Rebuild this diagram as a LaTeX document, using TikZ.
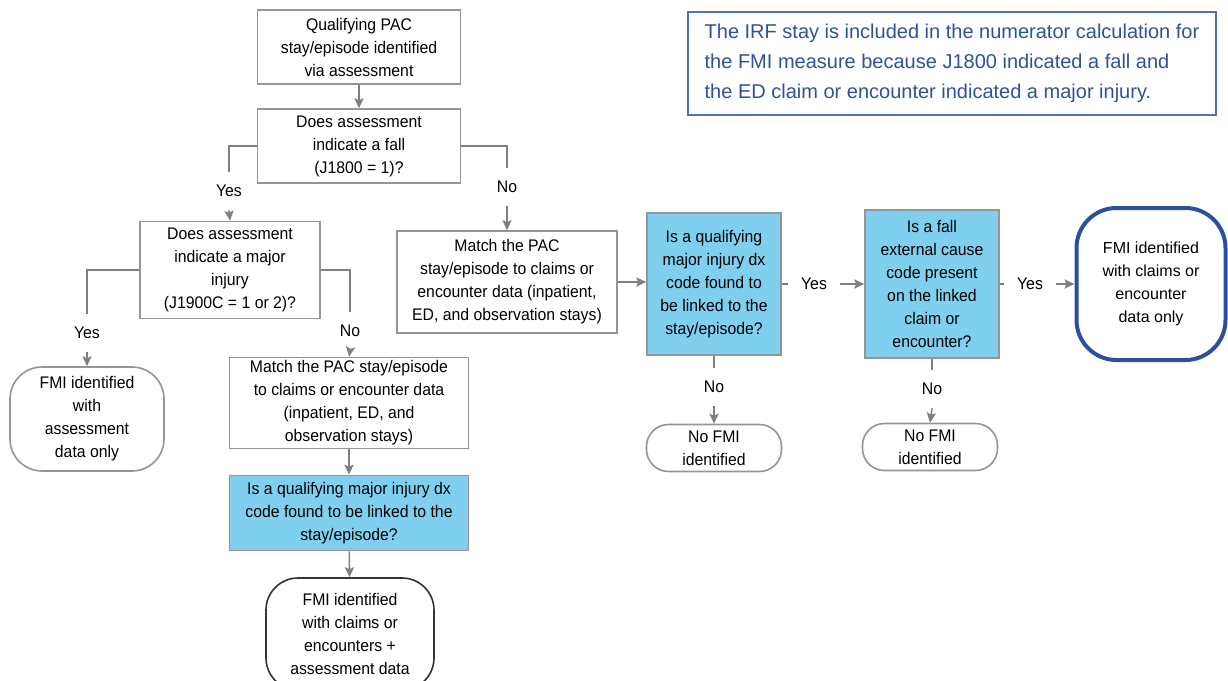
\documentclass[tikz,border=0pt]{standalone}
\usepackage{fontspec}
\setmainfont{Liberation Sans}
\newfontfamily\boxfont[FakeStretch=0.94]{Liberation Sans}
\usetikzlibrary{arrows.meta}

\definecolor{flowgray}{HTML}{7F7F7F}
\definecolor{boxgray}{HTML}{959595}
\definecolor{askblue}{HTML}{7FCFEF}
\definecolor{endblue}{HTML}{2B50A0}
\definecolor{noteblue}{HTML}{4F73B3}
\definecolor{notetext}{HTML}{2F529A}

\begin{document}
\begin{tikzpicture}[x=0.5pt, y=-0.5pt, >={Stealth[length=5pt, width=4.6pt, inset=1pt]},
  every box/.style={draw=boxgray, line width=0.8pt, fill=white, align=center,
    inner sep=0pt, font=\boxfont\fontsize{8.4}{11.5}\selectfont},
  ask/.style={fill=askblue},
  terminal/.style={rounded corners=16pt},
  answer/.style={inner sep=0pt, minimum width=26pt, minimum height=19pt,
    font=\boxfont\fontsize{8.4}{11.5}\selectfont},
  flow/.style={draw=flowgray, line width=0.8pt}]

\useasboundingbox (0,0) rectangle (1228,681);

% assessment path
\node [every box, minimum width=101.5pt, minimum height=37pt] (start) at (359,47)
  {Qualifying PAC\\stay/episode identified\\via assessment};
\node [every box, minimum width=101.5pt, minimum height=37pt] (fall) at (359,146)
  {Does assessment\\indicate a fall\\(J1800 = 1)?};
\node [every box, minimum width=90pt, minimum height=48.5pt] (injury) at (230,270)
  {Does assessment\\indicate a major\\injury\\(J1900C = 1 or 2)?};
\node [every box, terminal, minimum width=77pt, minimum height=52pt] (fmi-assess) at (87,419)
  {FMI identified\\with\\assessment\\data only};
\node [every box, minimum width=119.5pt, minimum height=45.5pt] (match-left) at (349,403)
  {Match the PAC stay/episode\\to claims or encounter data\\(inpatient, ED, and\\observation stays)};
\node [every box, ask, minimum width=119.5pt, minimum height=37.5pt] (dx-left) at (349,513)
  {Is a qualifying major injury dx\\code found to be linked to the\\stay/episode?};
\node [every box, terminal, draw=black!80, minimum width=84pt, minimum height=56pt] (fmi-both) at (350,634)
  {FMI identified\\with claims or\\encounters +\\assessment data};

% claims path
\node [every box, minimum width=110pt, minimum height=51pt] (match-right) at (507,282)
  {Match the PAC\\stay/episode to claims or\\encounter data (inpatient,\\ED, and observation stays)};
\node [every box, ask, minimum width=67pt, minimum height=71pt] (dx-right) at (714,284)
  {Is a qualifying\\major injury dx\\code found to\\be linked to the\\stay/episode?};
\node [every box, ask, minimum width=67pt, minimum height=74pt] (cause) at (932,284)
  {Is a fall\\external cause\\code present\\on the linked\\claim or\\encounter?};
\node [every box, terminal, rounded corners=20pt, draw=endblue, line width=2pt,
  minimum width=74.5pt, minimum height=76pt, font=\fontsize{8}{11.5}\selectfont] (fmi-claims) at (1151,284)
  {FMI identified\\with claims or\\encounter\\data only};

\foreach \n/\px/\py in {dx-right/714/448, cause/930/447}
  \node [every box, rounded corners=11pt, minimum width=67.5pt, minimum height=23.5pt]
    (nofmi-\n) at (\px,\py) {No FMI\\identified};

% answers on the connectors
\foreach \n/\t/\px/\py in {fall-yes/Yes/229/191, fall-no/No/507/187,
    injury-yes/Yes/87/333, injury-no/No/350/331,
    dx-right-yes/Yes/814/284, cause-yes/Yes/1030/284,
    dx-right-no/No/714/387, cause-no/No/932/389}
  \node [answer] (\n) at (\px,\py) {\t};

\draw [flow, ->] (start) -- (fall);
\draw [flow] (fall.west) -| (fall-yes.north);
\draw [flow, ->] (fall-yes.south) -- (injury.north);
\draw [flow] (fall.east) -| (fall-no.north);
\draw [flow, ->] (fall-no.south) -- (match-right.north);

\draw [flow] (injury.west) -| (injury-yes.north);
\draw [flow, ->] (injury-yes.south) -- (fmi-assess.north);
\draw [flow] (injury.east) -| (injury-no.north);
\draw [flow, ->] (injury-no.south) -- (match-left.north);
\draw [flow, ->] (match-left) -- (dx-left);
\draw [flow, ->] (dx-left) -- (fmi-both);

\draw [flow, ->] (match-right.east) -- (match-right.east -| dx-right.west);
\draw [flow] (dx-right.east) -- (dx-right-yes.west);
\draw [flow, ->] (dx-right-yes.east) -- (cause.west);
\draw [flow] (cause.east) -- (cause-yes.west);
\draw [flow, ->] (cause-yes.east) -- (fmi-claims.west);

\foreach \n in {dx-right, cause} {
  \draw [flow] (\n.south) -- (\n-no.north);
  \draw [flow, ->] (\n-no.south) -- (nofmi-\n.north);
}

% note
\node [draw=noteblue, line width=0.8pt, text=notetext, align=left,
  minimum width=264pt, minimum height=51.5pt, font=\fontsize{10}{15}\selectfont] (note) at (952,63.5)
  {The IRF stay is included in the numerator calculation for\\the FMI measure because J1800 indicated a fall and\\the ED claim or encounter indicated a major injury.};

\end{tikzpicture}
\end{document}
